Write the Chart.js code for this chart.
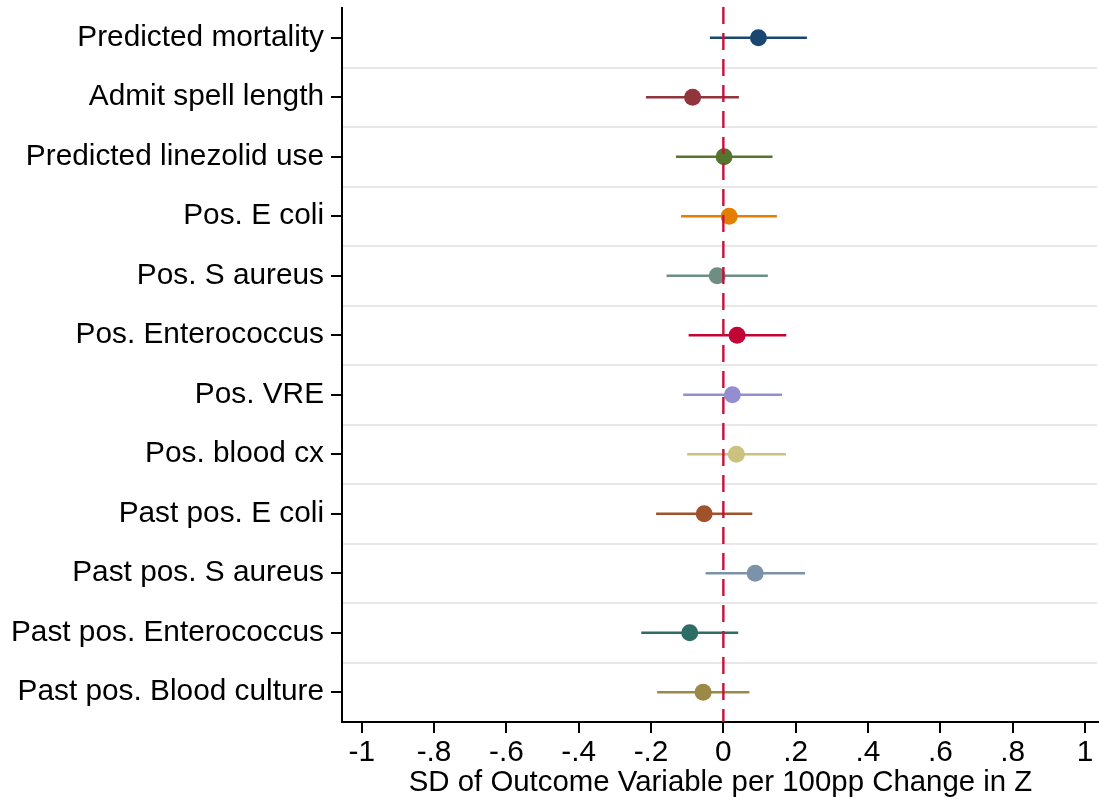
<!DOCTYPE html>
<html>
<head>
<meta charset="utf-8">
<script src="https://cdn.jsdelivr.net/npm/chart.js@4.4.1/dist/chart.umd.min.js"></script>
<style>
  html, body { margin: 0; padding: 0; background: #fff; }
  #wrap { width: 1099px; height: 801px; }
</style>
</head>
<body>
<div id="wrap"><canvas id="coefChart" width="1099" height="801"></canvas></div>
<script>
const outcomes = [
  "Predicted mortality",
  "Admit spell length",
  "Predicted linezolid use",
  "Pos. E coli",
  "Pos. S aureus",
  "Pos. Enterococcus",
  "Pos. VRE",
  "Pos. blood cx",
  "Past pos. E coli",
  "Past pos. S aureus",
  "Past pos. Enterococcus",
  "Past pos. Blood culture",
];
const estimates = [0.097, -0.085, 0.002, 0.016, -0.017, 0.038, 0.025, 0.036, -0.053, 0.088, -0.093, -0.056];
const ciLow = [-0.037, -0.214, -0.131, -0.117, -0.157, -0.096, -0.111, -0.100, -0.186, -0.049, -0.227, -0.183];
const ciHigh = [0.231, 0.043, 0.136, 0.148, 0.123, 0.174, 0.162, 0.173, 0.080, 0.226, 0.041, 0.072];
const xTicks = [-1, -0.8, -0.6, -0.4, -0.2, 0, 0.2, 0.4, 0.6, 0.8, 1];
const colors = ["#1a476f", "#90353b", "#55752f", "#e37e00", "#6e8e84", "#c10534",
                "#938dd2", "#cac27e", "#a0522d", "#7b92a8", "#2d6d66", "#9c8847"];

const FONT = { family: "'Liberation Sans', Arial, sans-serif", size: 29.8, lineHeight: 1.2 };
const TITLE_FONT = { family: "'Liberation Sans', Arial, sans-serif", size: 29.4, lineHeight: 1.2 };

// stata style tick text: -.8, .2, 0, 1
function fmtTick(v) {
  const r = Math.round(v * 10) / 10;
  if (r === 0) return "0";
  return String(r).replace("0.", ".");
}

// light separators between rows + dashed reference line at zero
const rowGuides = {
  id: "rowGuides",
  beforeDatasetsDraw(chart) {
    const { ctx, chartArea, scales } = chart;
    const y = scales.y;
    ctx.save();
    ctx.strokeStyle = "#e8e8e8";
    ctx.lineWidth = 2;
    for (let i = 1; i < outcomes.length; i++) {
      const py = Math.round((y.getPixelForValue(i - 1) + y.getPixelForValue(i)) / 2);
      ctx.beginPath();
      ctx.moveTo(chartArea.left + 1, py);
      ctx.lineTo(chartArea.right - 2, py);
      ctx.stroke();
    }
    ctx.restore();
  },
  afterDatasetsDraw(chart) {
    const { ctx, chartArea, scales } = chart;
    const px = scales.x.getPixelForValue(0);
    ctx.save();
    ctx.strokeStyle = "#c8103a";
    ctx.lineWidth = 2.4;
    ctx.setLineDash([17, 9]);
    ctx.beginPath();
    ctx.moveTo(px, chartArea.top - 1);
    ctx.lineTo(px, chartArea.bottom);
    ctx.stroke();
    ctx.restore();
  },
};

const datasets = [];
outcomes.forEach((name, i) => {
  datasets.push({
    type: "line",
    data: [{ x: ciLow[i], y: name }, { x: ciHigh[i], y: name }],
    borderColor: colors[i],
    borderWidth: 2.4,
    pointRadius: 0,
    order: 2,
  });
});
datasets.push({
  type: "scatter",
  data: outcomes.map((name, i) => ({ x: estimates[i], y: name })),
  pointRadius: 8.5,
  pointBorderWidth: 0,
  pointBackgroundColor: colors,
  pointBorderColor: colors,
  order: 1,
});

new Chart(document.getElementById("coefChart"), {
  type: "scatter",
  data: { datasets },
  options: {
    responsive: false,
    animation: false,
    layout: { autoPadding: false, padding: { top: 8, right: 0, left: 0, bottom: 0 } },
    plugins: { legend: { display: false }, tooltip: { enabled: false } },
    scales: {
      x: {
        type: "linear",
        min: -1.0545,
        max: 1.0387,
        afterBuildTicks: (scale) => { scale.ticks = xTicks.map((v) => ({ value: v })); },
        afterFit: (scale) => {
          scale.height = 79;
          scale.paddingLeft = 0;
          scale.paddingRight = 0;
        },
        grid: { drawOnChartArea: false, drawTicks: true, tickLength: 11, color: "#000", lineWidth: 2 },
        border: { display: true, color: "#000", width: 2 },
        ticks: { color: "#000", font: FONT, padding: 2, maxRotation: 0, autoSkip: false, callback: (v) => fmtTick(v) },
        title: {
          display: true,
          text: "SD of Outcome Variable per 100pp Change in Z",
          color: "#000",
          font: TITLE_FONT,
          padding: { top: 0, bottom: 0 },
        },
      },
      y: {
        type: "category",
        labels: outcomes,
        offset: true,
        afterFit: (scale) => {
          scale.width = 342;
          scale.paddingTop = 0;
          scale.paddingBottom = 0;
        },
        grid: { offset: false, drawOnChartArea: false, drawTicks: true, tickLength: 11, color: "#000", lineWidth: 2 },
        border: { display: true, color: "#000", width: 2 },
        ticks: { color: "#000", font: FONT, padding: 7, autoSkip: false },
      },
    },
  },
  plugins: [rowGuides],
});
</script>
</body>
</html>
